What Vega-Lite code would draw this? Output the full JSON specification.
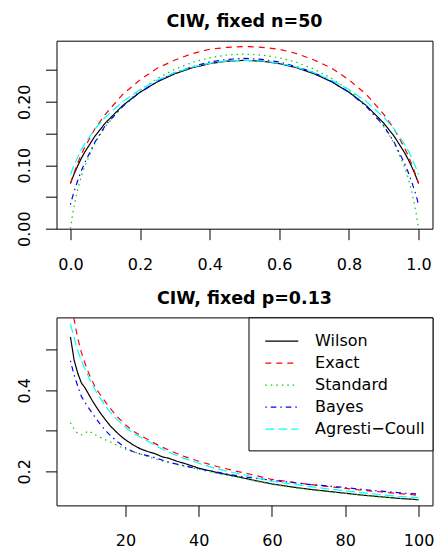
{
  "$schema": "https://vega.github.io/schema/vega-lite/v6.json",
  "autosize": {"type": "pad"},
  "padding": {"left": 15.5, "top": 12.7, "right": 0, "bottom": 0},
  "background": "white",
  "bounds": "flush",
  "spacing": 88.7,
  "config": {
    "font": "DejaVu Sans",
    "view": {"stroke": "black", "strokeWidth": 1},
    "axis": {"grid": false, "domain": false, "tickColor": "black", "tickSize": 11, "tickWidth": 1, "labelFont": "DejaVu Sans", "labelFontSize": 16, "labelColor": "black", "title": null, "labelOverlap": false, "labelFlush": false},
    "axisX": {"labelBaseline": "alphabetic", "labelPadding": 29.5, "labelAlign": "center"},
    "axisY": {"labelAngle": -90, "labelAlign": "center", "labelBaseline": "alphabetic", "labelPadding": 15.7},
    "title": {"font": "DejaVu Sans", "fontSize": 17.5, "fontWeight": "bold", "baseline": "alphabetic", "offset": 9.8, "anchor": "middle", "frame": "group", "color": "black"},
    "legend": {"orient": "top-right", "offset": 0, "padding": 7.7, "fillColor": "white", "strokeColor": "black", "strokeWidth": 1, "symbolType": "M-7.39,-3.3M-7.39,3.3M-5,0H5", "symbolSize": 43.56, "symbolStrokeWidth": 1.2, "symbolOffset": 17.6, "labelFont": "DejaVu Sans", "labelFontSize": 16, "labelColor": "black", "labelOffset": 25.3, "rowPadding": -7.0, "titleFontSize": 5, "titlePadding": 3}
  },
  "datasets": {
    "byp": [
      {"p": 0, "Wilson": 0.0714, "Exact": 0.0711, "Standard": 0, "Bayes": 0.038, "Agresti−Coull": 0.0852},
      {"p": 0.005, "Wilson": 0.0786, "Exact": 0.0796, "Standard": 0.0181, "Bayes": 0.0481, "Agresti−Coull": 0.0924},
      {"p": 0.01, "Wilson": 0.0855, "Exact": 0.0875, "Standard": 0.0338, "Bayes": 0.0574, "Agresti−Coull": 0.0993},
      {"p": 0.02, "Wilson": 0.098, "Exact": 0.1022, "Standard": 0.0597, "Bayes": 0.0743, "Agresti−Coull": 0.1118},
      {"p": 0.03, "Wilson": 0.1094, "Exact": 0.1154, "Standard": 0.0804, "Bayes": 0.0893, "Agresti−Coull": 0.123},
      {"p": 0.04, "Wilson": 0.1196, "Exact": 0.1272, "Standard": 0.0972, "Bayes": 0.1026, "Agresti−Coull": 0.1328},
      {"p": 0.07, "Wilson": 0.1456, "Exact": 0.157, "Standard": 0.1345, "Bayes": 0.1361, "Agresti−Coull": 0.1569},
      {"p": 0.1, "Wilson": 0.1664, "Exact": 0.1803, "Standard": 0.1609, "Bayes": 0.1624, "Agresti−Coull": 0.1756},
      {"p": 0.15, "Wilson": 0.194, "Exact": 0.2116, "Standard": 0.1938, "Bayes": 0.1926, "Agresti−Coull": 0.2003},
      {"p": 0.2, "Wilson": 0.2152, "Exact": 0.2346, "Standard": 0.2184, "Bayes": 0.2152, "Agresti−Coull": 0.2193},
      {"p": 0.25, "Wilson": 0.2316, "Exact": 0.2532, "Standard": 0.237, "Bayes": 0.2319, "Agresti−Coull": 0.2343},
      {"p": 0.3, "Wilson": 0.2442, "Exact": 0.2658, "Standard": 0.2515, "Bayes": 0.2461, "Agresti−Coull": 0.2459},
      {"p": 0.35, "Wilson": 0.2536, "Exact": 0.276, "Standard": 0.2621, "Bayes": 0.2551, "Agresti−Coull": 0.2546},
      {"p": 0.4, "Wilson": 0.2602, "Exact": 0.2828, "Standard": 0.2695, "Bayes": 0.2629, "Agresti−Coull": 0.2606},
      {"p": 0.45, "Wilson": 0.2641, "Exact": 0.2858, "Standard": 0.2738, "Bayes": 0.2668, "Agresti−Coull": 0.2643},
      {"p": 0.5, "Wilson": 0.2653, "Exact": 0.2872, "Standard": 0.2752, "Bayes": 0.2684, "Agresti−Coull": 0.2655},
      {"p": 0.55, "Wilson": 0.2641, "Exact": 0.2858, "Standard": 0.2738, "Bayes": 0.2668, "Agresti−Coull": 0.2643},
      {"p": 0.6, "Wilson": 0.2602, "Exact": 0.2828, "Standard": 0.2695, "Bayes": 0.2629, "Agresti−Coull": 0.2606},
      {"p": 0.65, "Wilson": 0.2536, "Exact": 0.276, "Standard": 0.2621, "Bayes": 0.2551, "Agresti−Coull": 0.2546},
      {"p": 0.7, "Wilson": 0.2442, "Exact": 0.2658, "Standard": 0.2515, "Bayes": 0.2461, "Agresti−Coull": 0.2459},
      {"p": 0.75, "Wilson": 0.2316, "Exact": 0.2532, "Standard": 0.237, "Bayes": 0.2319, "Agresti−Coull": 0.2343},
      {"p": 0.8, "Wilson": 0.2152, "Exact": 0.2346, "Standard": 0.2184, "Bayes": 0.2152, "Agresti−Coull": 0.2193},
      {"p": 0.85, "Wilson": 0.194, "Exact": 0.2116, "Standard": 0.1938, "Bayes": 0.1926, "Agresti−Coull": 0.2003},
      {"p": 0.9, "Wilson": 0.1664, "Exact": 0.1803, "Standard": 0.1609, "Bayes": 0.1624, "Agresti−Coull": 0.1756},
      {"p": 0.93, "Wilson": 0.1456, "Exact": 0.157, "Standard": 0.1345, "Bayes": 0.1361, "Agresti−Coull": 0.1569},
      {"p": 0.96, "Wilson": 0.1196, "Exact": 0.1272, "Standard": 0.0972, "Bayes": 0.1026, "Agresti−Coull": 0.1328},
      {"p": 0.97, "Wilson": 0.1094, "Exact": 0.1154, "Standard": 0.0804, "Bayes": 0.0893, "Agresti−Coull": 0.123},
      {"p": 0.98, "Wilson": 0.098, "Exact": 0.1022, "Standard": 0.0597, "Bayes": 0.0743, "Agresti−Coull": 0.1118},
      {"p": 0.99, "Wilson": 0.0855, "Exact": 0.0875, "Standard": 0.0338, "Bayes": 0.0574, "Agresti−Coull": 0.0993},
      {"p": 0.995, "Wilson": 0.0786, "Exact": 0.0796, "Standard": 0.0181, "Bayes": 0.0481, "Agresti−Coull": 0.0924},
      {"p": 1, "Wilson": 0.0714, "Exact": 0.0711, "Standard": 0, "Bayes": 0.038, "Agresti−Coull": 0.0852}
    ],
    "byn": [
      {"n": 5, "Wilson": 0.532, "Exact": 0.66, "Standard": 0.32, "Bayes": 0.473, "Agresti−Coull": 0.563},
      {"n": 6, "Wilson": 0.475, "Exact": 0.575, "Standard": 0.305, "Bayes": 0.438, "Agresti−Coull": 0.53},
      {"n": 7, "Wilson": 0.442, "Exact": 0.528, "Standard": 0.293, "Bayes": 0.41, "Agresti−Coull": 0.498},
      {"n": 8, "Wilson": 0.418, "Exact": 0.493, "Standard": 0.29, "Bayes": 0.385, "Agresti−Coull": 0.473},
      {"n": 9, "Wilson": 0.406, "Exact": 0.466, "Standard": 0.295, "Bayes": 0.37, "Agresti−Coull": 0.452},
      {"n": 10, "Wilson": 0.39, "Exact": 0.442, "Standard": 0.3, "Bayes": 0.356, "Agresti−Coull": 0.432},
      {"n": 11, "Wilson": 0.374, "Exact": 0.422, "Standard": 0.294, "Bayes": 0.343, "Agresti−Coull": 0.414},
      {"n": 12, "Wilson": 0.36, "Exact": 0.405, "Standard": 0.289, "Bayes": 0.33, "Agresti−Coull": 0.397},
      {"n": 13, "Wilson": 0.346, "Exact": 0.391, "Standard": 0.285, "Bayes": 0.318, "Agresti−Coull": 0.382},
      {"n": 14, "Wilson": 0.334, "Exact": 0.378, "Standard": 0.28, "Bayes": 0.307, "Agresti−Coull": 0.369},
      {"n": 15, "Wilson": 0.322, "Exact": 0.366, "Standard": 0.276, "Bayes": 0.297, "Agresti−Coull": 0.356},
      {"n": 16, "Wilson": 0.311, "Exact": 0.354, "Standard": 0.272, "Bayes": 0.288, "Agresti−Coull": 0.345},
      {"n": 17, "Wilson": 0.302, "Exact": 0.343, "Standard": 0.268, "Bayes": 0.28, "Agresti−Coull": 0.335},
      {"n": 18, "Wilson": 0.293, "Exact": 0.333, "Standard": 0.263, "Bayes": 0.272, "Agresti−Coull": 0.326},
      {"n": 19, "Wilson": 0.285, "Exact": 0.324, "Standard": 0.259, "Bayes": 0.265, "Agresti−Coull": 0.317},
      {"n": 20, "Wilson": 0.278, "Exact": 0.315, "Standard": 0.255, "Bayes": 0.258, "Agresti−Coull": 0.309},
      {"n": 22, "Wilson": 0.266, "Exact": 0.3, "Standard": 0.249, "Bayes": 0.249, "Agresti−Coull": 0.295},
      {"n": 24, "Wilson": 0.256, "Exact": 0.289, "Standard": 0.243, "Bayes": 0.243, "Agresti−Coull": 0.285},
      {"n": 26, "Wilson": 0.249, "Exact": 0.279, "Standard": 0.237, "Bayes": 0.239, "Agresti−Coull": 0.275},
      {"n": 28, "Wilson": 0.244, "Exact": 0.269, "Standard": 0.231, "Bayes": 0.234, "Agresti−Coull": 0.265},
      {"n": 30, "Wilson": 0.236, "Exact": 0.26, "Standard": 0.226, "Bayes": 0.228, "Agresti−Coull": 0.255},
      {"n": 32, "Wilson": 0.232, "Exact": 0.252, "Standard": 0.222, "Bayes": 0.222, "Agresti−Coull": 0.247},
      {"n": 34, "Wilson": 0.225, "Exact": 0.244, "Standard": 0.217, "Bayes": 0.218, "Agresti−Coull": 0.239},
      {"n": 36, "Wilson": 0.22, "Exact": 0.237, "Standard": 0.213, "Bayes": 0.214, "Agresti−Coull": 0.232},
      {"n": 38, "Wilson": 0.214, "Exact": 0.231, "Standard": 0.209, "Bayes": 0.21, "Agresti−Coull": 0.226},
      {"n": 40, "Wilson": 0.208, "Exact": 0.225, "Standard": 0.205, "Bayes": 0.206, "Agresti−Coull": 0.22},
      {"n": 45, "Wilson": 0.197, "Exact": 0.212, "Standard": 0.195, "Bayes": 0.198, "Agresti−Coull": 0.206},
      {"n": 50, "Wilson": 0.188, "Exact": 0.201, "Standard": 0.186, "Bayes": 0.19, "Agresti−Coull": 0.196},
      {"n": 55, "Wilson": 0.178, "Exact": 0.191, "Standard": 0.177, "Bayes": 0.183, "Agresti−Coull": 0.186},
      {"n": 60, "Wilson": 0.169, "Exact": 0.18, "Standard": 0.168, "Bayes": 0.178, "Agresti−Coull": 0.175},
      {"n": 65, "Wilson": 0.162, "Exact": 0.174, "Standard": 0.161, "Bayes": 0.173, "Agresti−Coull": 0.169},
      {"n": 70, "Wilson": 0.156, "Exact": 0.168, "Standard": 0.155, "Bayes": 0.168, "Agresti−Coull": 0.163},
      {"n": 75, "Wilson": 0.151, "Exact": 0.163, "Standard": 0.15, "Bayes": 0.164, "Agresti−Coull": 0.157},
      {"n": 80, "Wilson": 0.146, "Exact": 0.158, "Standard": 0.146, "Bayes": 0.16, "Agresti−Coull": 0.152},
      {"n": 85, "Wilson": 0.141, "Exact": 0.153, "Standard": 0.141, "Bayes": 0.155, "Agresti−Coull": 0.147},
      {"n": 90, "Wilson": 0.137, "Exact": 0.149, "Standard": 0.137, "Bayes": 0.151, "Agresti−Coull": 0.142},
      {"n": 95, "Wilson": 0.133, "Exact": 0.145, "Standard": 0.133, "Bayes": 0.147, "Agresti−Coull": 0.138},
      {"n": 100, "Wilson": 0.13, "Exact": 0.141, "Standard": 0.13, "Bayes": 0.144, "Agresti−Coull": 0.135}
    ]
  },
  "resolve": {"legend": {"color": "independent", "strokeDash": "independent"}},
  "vconcat": [
    {
      "title": "CIW, fixed n=50",
      "width": 376,
      "height": 188,
      "data": {"name": "byp"},
      "transform": [{"fold": ["Wilson", "Exact", "Standard", "Bayes", "Agresti−Coull"], "as": ["method", "ciw"]}],
      "mark": {"type": "line", "strokeWidth": 1.2, "clip": true},
      "encoding": {
        "x": {"field": "p", "type": "quantitative", "scale": {"domain": [-0.04, 1.04], "nice": false, "zero": false}, "axis": {"values": [0, 0.2, 0.4, 0.6, 0.8, 1], "format": ".1f"}},
        "y": {"field": "ciw", "type": "quantitative", "scale": {"domain": [0, 0.2963], "nice": false, "zero": false}, "axis": {"values": [0, 0.05, 0.1, 0.15, 0.2, 0.25], "labelExpr": "(abs(datum.value) < 0.001 || abs(datum.value - 0.1) < 0.001 || abs(datum.value - 0.2) < 0.001) ? format(datum.value, '.2f') : ''"}},
        "color": {"field": "method", "type": "nominal", "scale": {"domain": ["Wilson", "Exact", "Standard", "Bayes", "Agresti−Coull"], "range": ["#000000", "#FF0000", "#00CD00", "#0000FF", "#00FFFF"]}, "legend": null},
        "strokeDash": {"field": "method", "type": "nominal", "scale": {"domain": ["Wilson", "Exact", "Standard", "Bayes", "Agresti−Coull"], "range": [[1, 0], [6, 5], [1.5, 4], [1.5, 4, 5.5, 4], [9, 4]]}, "legend": null}
      }
    },
    {
      "title": "CIW, fixed p=0.13",
      "width": 376,
      "height": 188,
      "data": {"name": "byn"},
      "transform": [{"fold": ["Wilson", "Exact", "Standard", "Bayes", "Agresti−Coull"], "as": ["method", "ciw"]}],
      "mark": {"type": "line", "strokeWidth": 1.2, "clip": true},
      "encoding": {
        "x": {"field": "n", "type": "quantitative", "scale": {"domain": [1.2, 103.8], "nice": false, "zero": false}, "axis": {"values": [20, 40, 60, 80, 100]}},
        "y": {"field": "ciw", "type": "quantitative", "scale": {"domain": [0.116, 0.58], "nice": false, "zero": false}, "axis": {"values": [0.2, 0.3, 0.4, 0.5], "labelExpr": "(abs(datum.value - 0.2) < 0.001 || abs(datum.value - 0.4) < 0.001) ? format(datum.value, '.1f') : ''"}},
        "color": {"field": "method", "type": "nominal", "scale": {"domain": ["Wilson", "Exact", "Standard", "Bayes", "Agresti−Coull"], "range": ["#000000", "#FF0000", "#00CD00", "#0000FF", "#00FFFF"]}, "legend": {"title": " "}},
        "strokeDash": {"field": "method", "type": "nominal", "scale": {"domain": ["Wilson", "Exact", "Standard", "Bayes", "Agresti−Coull"], "range": [[1, 0], [6, 5], [1.5, 4], [1.5, 4, 5.5, 4], [9, 4]]}, "legend": {"title": " "}}
      }
    }
  ]
}
